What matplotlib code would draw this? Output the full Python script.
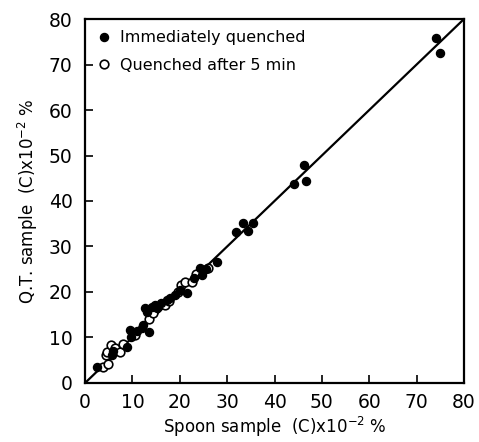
import matplotlib
matplotlib.use("Agg")
import matplotlib.pyplot as plt

# immediately quenched (filled)
imm_x = [2.5, 5.6, 6.0, 8.8, 9.5, 9.8, 11.0, 12.0, 12.3, 12.7, 13.0, 13.4, 14.1,
         14.8, 15.1, 16.0, 17.2, 18.0, 19.0, 20.0, 21.5, 23.0, 24.3, 24.6, 25.5,
         27.8, 31.9, 33.3, 34.5, 35.4, 44.2, 46.2, 46.6, 74.0, 74.9]
imm_y = [3.5, 6.2, 7.0, 8.0, 11.6, 10.2, 11.5, 12.0, 12.7, 16.4, 15.7, 11.3, 16.8,
         17.1, 16.4, 17.5, 18.2, 18.6, 19.3, 20.5, 19.8, 23.0, 25.3, 23.7, 25.1,
         26.7, 33.1, 35.1, 33.3, 35.1, 43.7, 47.9, 44.4, 75.8, 72.5]

# quenched after 5 min (open)
q5_x = [3.8, 4.4, 4.6, 4.9, 5.5, 6.3, 7.4, 8.0, 10.5, 13.5, 14.4, 16.9, 17.8,
        19.7, 20.3, 21.1, 22.5, 23.5, 26.0]
q5_y = [3.5, 6.2, 6.9, 4.2, 8.4, 7.6, 6.9, 8.6, 10.5, 14.0, 15.3, 17.1, 18.0,
        20.1, 21.5, 22.3, 22.3, 24.0, 25.2]

line_x = [0, 80]
line_y = [0, 80]

fig = plt.figure(figsize=(4.79, 4.42), dpi=100)
ax = fig.add_axes([0.1775, 0.1335, 0.7912, 0.8235])

ax.plot(line_x, line_y, color="black", lw=1.6, zorder=1)
ax.plot(imm_x, imm_y, "o", color="black", ms=5.8, zorder=3,
        label="Immediately quenched")
ax.plot(q5_x, q5_y, "o", mfc="white", mec="black", mew=1.2, ms=6.2, zorder=2,
        label="Quenched after 5 min")

ax.set_xlim(0, 80)
ax.set_ylim(0, 80)
ax.set_xticks(range(0, 81, 10))
ax.set_yticks(range(0, 81, 10))
ax.tick_params(direction="in", length=6, width=1.2, labelsize=13.5, pad=9)
ax.tick_params(axis="x", pad=7)
for s in ax.spines.values():
    s.set_linewidth(1.6)

ax.set_xlabel(r"Spoon sample  (C)x10$^{-2}$ %", fontsize=12, labelpad=2)
ax.set_ylabel(r"Q.T. sample  (C)x10$^{-2}$ %", fontsize=12, labelpad=6)

ax.legend(loc="upper left", frameon=False, fontsize=11.5, handletextpad=0.5,
          borderaxespad=0.3, handlelength=1.0, labelspacing=0.8)

fig.savefig("out.png", dpi=100)
